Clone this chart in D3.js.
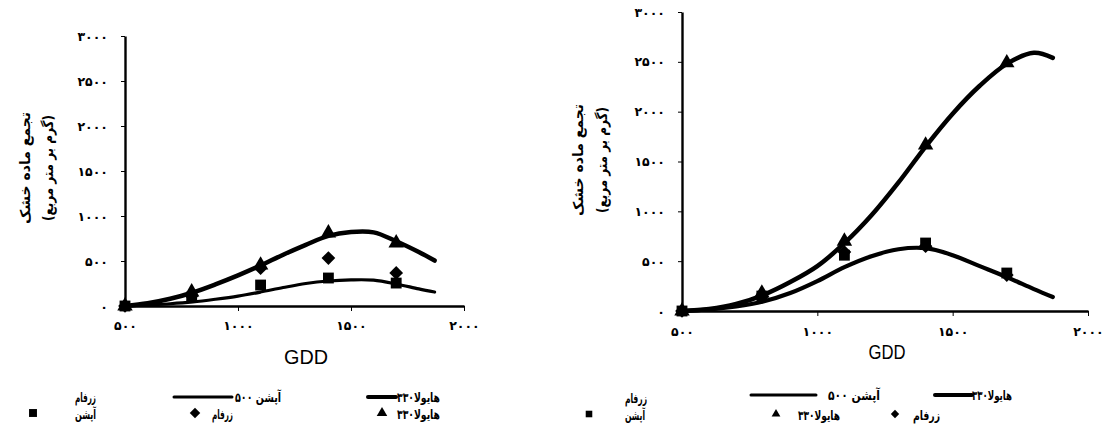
<!DOCTYPE html>
<html>
<head>
<meta charset="utf-8">
<script src="https://cdn.jsdelivr.net/npm/d3@7"></script>
<style>
  body { margin: 0; background: #fff; }
  svg { display: block; }
  .fa { font-family: "DejaVu Sans", sans-serif; font-weight: bold; }
</style>
</head>
<body>
<div id="chart"></div>
<script>
const [width, height] = [1105, 438];

// measured points (GDD)
const pointGdd = [500, 795, 1100, 1400, 1700];
const leftHyola = [0, 156, 455, 811, 700];
const leftZarfam = [0, 110, 420, 533, 367];
const leftApshan = [0, 100, 233, 311, 255];
const rightHyola = [0, 180, 700, 1665, 2490];
const rightZarfam = [0, 140, 592, 650, 360];
const rightApshan = [0, 150, 560, 682, 381];

// fitted curves
const curveGdd = [500, 600, 700, 800, 900, 1000, 1100, 1200, 1300, 1400, 1500, 1600, 1700, 1800, 1870];
const leftHyolaFit = [0, 30, 80, 150, 240, 340, 450, 570, 680, 780, 822, 818, 720, 600, 505];
const leftApshanFit = [0, 12, 25, 45, 75, 110, 155, 205, 250, 278, 290, 287, 245, 190, 155];
const rightHyolaFit = [0, 20, 70, 160, 290, 450, 680, 960, 1290, 1650, 1980, 2260, 2480, 2590, 2540];
const rightApshanFit = [0, 15, 45, 95, 180, 300, 440, 550, 620, 630, 560, 450, 340, 220, 140];

const xTicks = [500, 1000, 1500, 2000];
const yTicks = [0, 500, 1000, 1500, 2000, 2500, 3000];
const yTitle1 = "تجمع ماده خشک";
const yTitle2 = "(گرم بر متر مربع)";

const faDigits = "۰۱۲۳۴۵۶۷۸۹";
const fa = d => String(d).replace(/\d/g, c => faDigits[c]);

const svg = d3.select("#chart")
              .append("svg")
              .attr("width", width)
              .attr("height", height);

function drawPanel(cfg) {
    const x = d3.scaleLinear().domain([500, 2000]).range(cfg.xr);
    const y = d3.scaleLinear().domain([0, 3000]).range(cfg.yr);
    const g = svg.append("g");

    const xa = g.append("g")
        .attr("transform", `translate(0, ${cfg.yr[0]})`)
        .call(d3.axisBottom(x).tickValues(xTicks).tickFormat(fa)
              .tickSize(5).tickSizeOuter(0).tickPadding(cfg.xpad));
    const ya = g.append("g")
        .attr("transform", `translate(${cfg.xr[0]}, 0)`)
        .call(d3.axisLeft(y).tickValues(yTicks).tickFormat(fa)
              .tickSize(4).tickSizeOuter(0).tickPadding(13));
    [xa, ya].forEach(a => {
        a.select(".domain").attr("stroke", "#000").attr("stroke-width", 2.4);
        a.selectAll("text").attr("class", "fa").attr("font-size", 12.5).attr("fill", "#000");
    });

    const line = d3.line()
        .x((d, i) => x(curveGdd[i]))
        .y(d => y(d))
        .curve(d3.curveCatmullRom);

    g.append("path").datum(cfg.apFit)
        .attr("d", line).attr("fill", "none")
        .attr("stroke", "#000").attr("stroke-width", cfg.apW)
        .attr("stroke-linecap", "round");
    g.append("path").datum(cfg.hyFit)
        .attr("d", line).attr("fill", "none")
        .attr("stroke", "#000").attr("stroke-width", 4.5)
        .attr("stroke-linecap", "round");

    const sym = (type, size, vals) => g.append("g").selectAll("path")
        .data(vals).enter().append("path")
        .attr("transform", (d, i) => `translate(${x(pointGdd[i])}, ${y(d)})`)
        .attr("d", d3.symbol(type, size))
        .attr("fill", "#000");
    sym(d3.symbolDiamond2, 120, cfg.zar);
    sym(d3.symbolSquare2, 150, cfg.ap);
    sym(d3.symbolTriangle2, 170, cfg.hy);

    g.append("text")
        .attr("text-anchor", "middle")
        .attr("x", cfg.gdd[0]).attr("y", cfg.gdd[1])
        .attr("font-family", "Liberation Sans, Arial, sans-serif")
        .attr("font-size", 21)
        .attr("textLength", cfg.gdd[2]).attr("lengthAdjust", "spacingAndGlyphs")
        .text("GDD");

    [[yTitle1, cfg.ttl[0], 112], [yTitle2, cfg.ttl[1], 106]].forEach(([t, tx, len]) => {
        g.append("text")
            .attr("class", "fa")
            .attr("font-size", 14)
            .attr("text-anchor", "middle")
            .attr("direction", "rtl")
            .attr("transform", `translate(${tx}, ${cfg.ttl[2]}) rotate(-90)`)
            .attr("dy", "0.35em")
            .attr("textLength", len).attr("lengthAdjust", "spacingAndGlyphs")
            .text(t);
    });
}

drawPanel({ xr: [125, 464], yr: [306, 36], xpad: 10, apW: 3.2,
            hy: leftHyola, zar: leftZarfam, ap: leftApshan,
            hyFit: leftHyolaFit, apFit: leftApshanFit,
            gdd: [306, 364, 44], ttl: [25, 48, 168] });
drawPanel({ xr: [682, 1088], yr: [311, 12], xpad: 11, apW: 4.2,
            hy: rightHyola, zar: rightZarfam, ap: rightApshan,
            hyFit: rightHyolaFit, apFit: rightApshanFit,
            gdd: [887, 359, 37], ttl: [578, 602, 160] });

// legends
const legendHyola = "هایولا۳۳۰";
const legendApshanLine = "آپشن ۵۰۰";
const legendZarfam = "زرفام";
const legendApshan = "آپشن";

function legText(t, xr, yy, len) {
    svg.append("text").attr("class", "fa").attr("font-size", 13)
       .attr("text-anchor", "end").attr("x", xr).attr("y", yy)
       .attr("textLength", len).attr("lengthAdjust", "spacingAndGlyphs")
       .text(t);
}
function legLine(x1, x2, yy, w) {
    svg.append("line").attr("x1", x1).attr("x2", x2).attr("y1", yy).attr("y2", yy)
       .attr("stroke", "#000").attr("stroke-width", w).attr("stroke-linecap", "round");
}
function legSym(type, size, cx, cy) {
    svg.append("path").attr("transform", `translate(${cx}, ${cy})`)
       .attr("d", d3.symbol(type, size)).attr("fill", "#000");
}

// left legend
legText(legendHyola, 440, 402, 43); legLine(368, 396, 397, 4);
legText(legendApshanLine, 281, 402, 46); legLine(174, 232, 397, 3);
legText(legendZarfam, 96, 402, 21);
legText(legendHyola, 440, 419, 43); legSym(d3.symbolTriangle2, 80, 382, 413);
legText(legendZarfam, 233, 419, 21); legSym(d3.symbolDiamond2, 70, 195, 413);
legText(legendApshan, 96, 419, 21); legSym(d3.symbolSquare2, 80, 33, 413);

// right legend
legText(legendHyola, 1012, 400, 40); legLine(935, 972, 395, 4);
legText(legendApshanLine, 880, 400, 52); legLine(751, 816, 395, 3);
legText(legendZarfam, 647, 403, 22);
legText(legendZarfam, 940, 420, 27); legSym(d3.symbolDiamond2, 45, 895, 414);
legText(legendHyola, 840, 420, 42); legSym(d3.symbolTriangle2, 55, 776, 414);
legText(legendApshan, 645, 420, 20); legSym(d3.symbolSquare2, 55, 589, 414);
</script>
</body>
</html>
